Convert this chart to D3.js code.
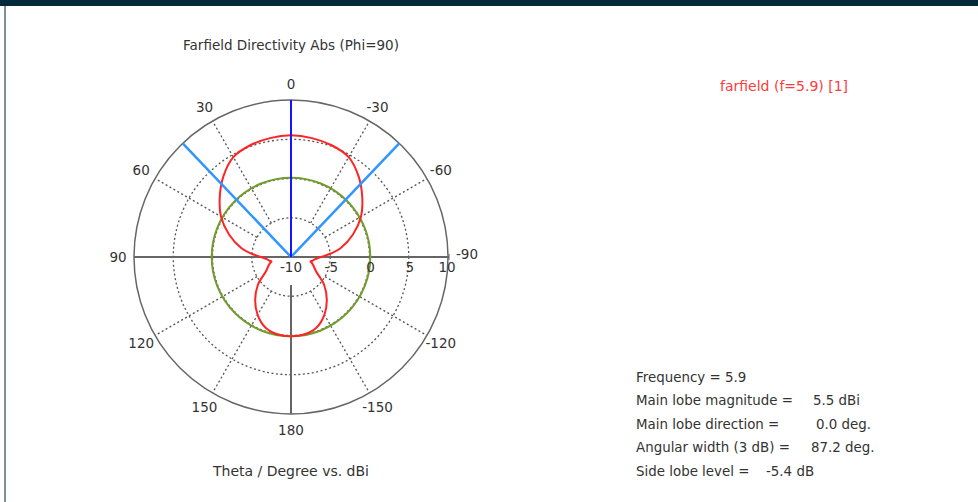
<!DOCTYPE html>
<meta charset="utf-8">
<style>
	body { margin: 0; background: #fff; }
	text { font-family: "DejaVu Sans", sans-serif; fill: #333; }
</style>
<svg width="978" height="502"></svg>
<script src="https://d3js.org/d3.v7.min.js"></script>
<script>

	// Pattern: theta in degrees, directivity in dBi.
	var thetaDeg = [-170, -160, -150, -140, -130, -120, -110, -106, -103, -100, -95, -90, -85, -80, -70, -60, -50, -40, -30, -20, -10,
		0, 10, 20, 30, 40, 50, 60, 70, 80, 85, 90, 95, 100, 103, 106, 110, 120, 130, 140, 150, 160, 170, 180];
	var directivity = [0.0, -0.45, -1.5, -2.9, -4.5, -6.3, -7.0, -7.25, -7.45, -7.25, -6.9, -6.2, -4.9, -3.6, -1.6, 0.3, 1.85, 3.4, 4.7, 5.15, 5.38,
		5.5, 5.38, 5.15, 4.7, 3.4, 1.85, 0.3, -1.6, -3.6, -4.9, -6.2, -6.9, -7.25, -7.45, -7.25, -7.0, -6.3, -4.5, -2.9, -1.5, -0.45, 0.0, 0.1];

	// Axis ticks.
	var angleTicks = [0, 30, 60, 90, 120, 150, 180, -150, -120, -90, -60, -30];
	var radialTicks = [-10, -5, 0, 5, 10];

	// Result summary.
	var mainLobeMag = 5.5,
		mainLobeDir = 0.0,
		angularWidth = 87.2,
		sideLobeLevel = -5.4;

	var infoLabels = ["Frequency = 5.9", "Main lobe magnitude =", "Main lobe direction =", "Angular width (3 dB) =", "Side lobe level ="];
	var infoValues = ["", "5.5 dBi", "0.0 deg.", "87.2 deg.", "-5.4 dB"];
	var infoValueX = [0, 813, 816, 811, 766];

	var svg = d3.select("svg"),
		width = +svg.attr("width"),
		height = +svg.attr("height"),
		cx = 291,
		cy = 257,
		R = 157;

	// Frame.
	svg.append("rect").attr("x", 0).attr("y", 0).attr("width", width).attr("height", 6).style("fill", "#04293b");
	svg.append("rect").attr("x", 4).attr("y", 6).attr("width", 2).attr("height", height - 6).style("fill", "#7d9099");

	var r = d3.scaleLinear().domain([-10, 10]).range([0, R]);
	var rad = function(t) { return -t * Math.PI / 180; };   // positive theta goes left

	var g = svg.append("g").attr("transform", "translate(" + cx + "," + cy + ")");

	function pt(t, rr) { return [rr * Math.sin(rad(t)), -rr * Math.cos(rad(t))]; }

	// Dotted rings.
	g.selectAll(".ring")
		.data(radialTicks.slice(1, -1))
		.enter().append("circle")
			.attr("r", function(d) { return r(d); })
			.style("fill", "none")
			.style("stroke", "#555")
			.style("stroke-width", 1.3)
			.style("stroke-dasharray", "2,2.5");

	// Dotted spokes.
	g.selectAll(".spoke")
		.data(angleTicks.filter(function(d) { return d % 90 != 0; }))
		.enter().append("line")
			.attr("x1", function(d) { return pt(d, r(-5))[0]; })
			.attr("y1", function(d) { return pt(d, r(-5))[1]; })
			.attr("x2", function(d) { return pt(d, R)[0]; })
			.attr("y2", function(d) { return pt(d, R)[1]; })
			.style("stroke", "#555")
			.style("stroke-width", 1.3)
			.style("stroke-dasharray", "2,2.5");

	// Outer ring.
	g.append("circle").attr("r", R)
		.style("fill", "none").style("stroke", "#666").style("stroke-width", 1.5);

	// Solid axes.
	g.append("line").attr("x1", -R).attr("x2", R + 1).attr("y1", 0).attr("y2", 0)
		.style("stroke", "#666").style("stroke-width", 2);
	g.append("line").attr("x1", 0).attr("x2", 0).attr("y1", 28).attr("y2", R)
		.style("stroke", "#666").style("stroke-width", 2);
	g.append("line").attr("x1", R + 1).attr("x2", R + 1).attr("y1", -3).attr("y2", 3)
		.style("stroke", "#666").style("stroke-width", 1);

	// Side lobe level circle.
	g.append("circle").attr("r", r(mainLobeMag + sideLobeLevel))
		.style("fill", "none").style("stroke", "#729c2e").style("stroke-width", 2);

	// Pattern.
	var line = d3.lineRadial()
		.angle(function(d) { return rad(d[0]); })
		.radius(function(d) { return r(d[1]); })
		.curve(d3.curveCatmullRomClosed);

	g.append("path")
		.datum(d3.zip(thetaDeg, directivity))
		.attr("d", line)
		.style("fill", "none")
		.style("stroke", "#ff2424")
		.style("stroke-width", 2);

	// Beam width and main lobe direction.
	[mainLobeDir - angularWidth / 2, mainLobeDir + angularWidth / 2].forEach(function(t) {
		g.append("line").attr("x1", 0).attr("y1", 0)
			.attr("x2", pt(t, R)[0]).attr("y2", pt(t, R)[1])
			.style("stroke", "#3096ff").style("stroke-width", 2.5);
	});
	g.append("line").attr("x1", 0).attr("y1", 0)
		.attr("x2", pt(mainLobeDir, R)[0]).attr("y2", pt(mainLobeDir, R)[1])
		.style("stroke", "#1414ff").style("stroke-width", 2);

	// Angle labels (-90 nudged up so it clears the radial "10").
	g.selectAll(".alabel")
		.data(angleTicks)
		.enter().append("text")
			.attr("x", function(d) { return pt(d, 173)[0] + (d == -90 ? 3 : 0); })
			.attr("y", function(d) { return pt(d, 173)[1] + (d == -90 ? -3 : 0); })
			.attr("dy", "0.35em")
			.attr("text-anchor", "middle")
			.style("font-size", "13.5px")
			.text(function(d) { return d; });

	// Radial labels.
	g.selectAll(".rlabel")
		.data(radialTicks)
		.enter().append("text")
			.attr("x", function(d) { return r(d) + (d == -10 ? 0 : 1) - (d == 10 ? 2 : 0); })
			.attr("y", 15)
			.attr("text-anchor", "middle")
			.style("font-size", "13.5px")
			.text(function(d) { return d; });

	// Titles.
	svg.append("text").attr("x", cx).attr("y", 50).attr("text-anchor", "middle")
		.style("font-size", "13.5px").text("Farfield Directivity Abs (Phi=90)");
	svg.append("text").attr("x", cx).attr("y", 476).attr("text-anchor", "middle")
		.style("font-size", "14px").text("Theta / Degree vs. dBi");

	// Legend.
	svg.append("text").attr("x", 720).attr("y", 91)
		.style("font-size", "14px").style("fill", "#ff3a3a").text("farfield (f=5.9) [1]");

	// Summary.
	var info = svg.append("g");
	infoLabels.forEach(function(s, i) {
		info.append("text").attr("x", 636).attr("y", 382 + i * 23.4)
			.style("font-size", "13.4px").text(s);
		if (infoValues[i]) {
			info.append("text").attr("x", infoValueX[i]).attr("y", 382 + i * 23.4)
				.style("font-size", "13.4px").text(infoValues[i]);
		}
	});

</script>
